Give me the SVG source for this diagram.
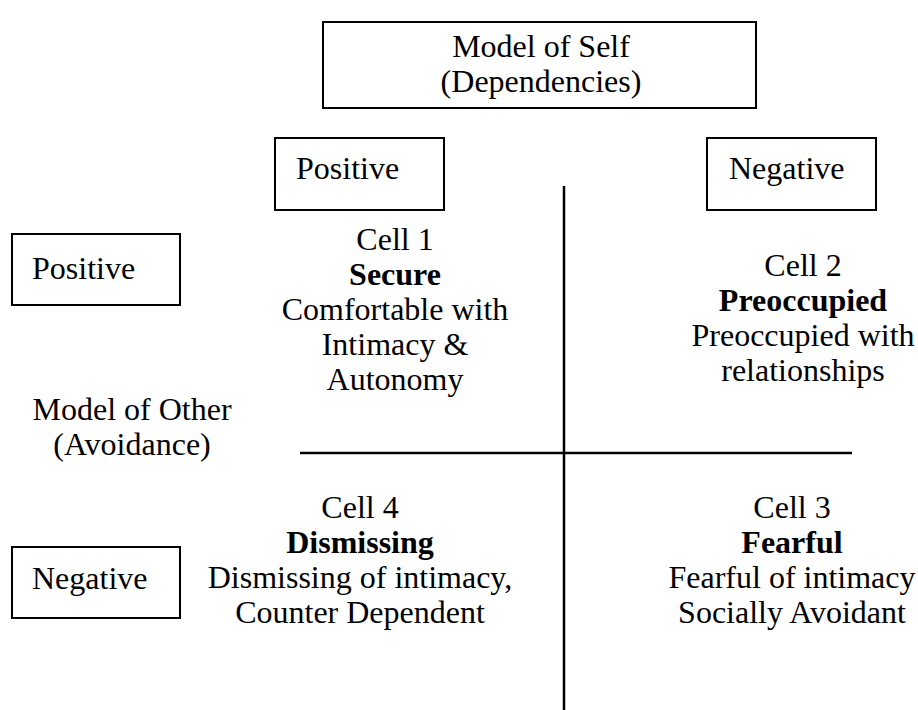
<svg xmlns="http://www.w3.org/2000/svg" width="918" height="710" viewBox="0 0 918 710">
<style>
text{font-family:"Liberation Serif","Times New Roman",serif;font-size:32px;fill:#000}
.c{text-anchor:middle}
.b{font-weight:bold}
.box{fill:#fff;stroke:#000;stroke-width:2}
.ln{stroke:#000;stroke-width:2.5;fill:none}
</style>
<rect width="918" height="710" fill="#fff"/>
<g id="self">
<rect class="box" x="323" y="22" width="433" height="86"/>
<text class="c" x="541" y="57">Model of Self</text>
<text class="c" x="541" y="92">(Dependencies)</text>
</g>
<g id="self-positive">
<rect class="box" x="275" y="138" width="169" height="72"/>
<text x="296" y="179">Positive</text>
</g>
<g id="self-negative">
<rect class="box" x="707" y="138" width="169" height="72"/>
<text x="729" y="179">Negative</text>
</g>
<g id="other-positive">
<rect class="box" x="12" y="234" width="168" height="71"/>
<text x="32" y="279">Positive</text>
</g>
<g id="other-negative">
<rect class="box" x="12" y="547" width="168" height="71"/>
<text x="32" y="589">Negative</text>
</g>
<g id="other">
<text class="c" x="132" y="420">Model of Other</text>
<text class="c" x="132" y="455">(Avoidance)</text>
</g>
<g id="cell1">
<text class="c" x="395" y="250">Cell 1</text>
<text class="c b" x="395" y="285">Secure</text>
<text class="c" x="395" y="320">Comfortable with</text>
<text class="c" x="395" y="355">Intimacy &amp;</text>
<text class="c" x="395" y="390">Autonomy</text>
</g>
<g id="cell2">
<text class="c" x="803" y="276">Cell 2</text>
<text class="c b" x="803" y="311">Preoccupied</text>
<text class="c" x="803" y="346">Preoccupied with</text>
<text class="c" x="803" y="381">relationships</text>
</g>
<g id="cell4">
<text class="c" x="360" y="518">Cell 4</text>
<text class="c b" x="360" y="553">Dismissing</text>
<text class="c" x="360" y="588">Dismissing of intimacy,</text>
<text class="c" x="360" y="623">Counter Dependent</text>
</g>
<g id="cell3">
<text class="c" x="792" y="518">Cell 3</text>
<text class="c b" x="792" y="553">Fearful</text>
<text class="c" x="792" y="588">Fearful of intimacy</text>
<text class="c" x="792" y="623">Socially Avoidant</text>
</g>
<g id="connectors">
<line class="ln" x1="300" y1="453" x2="852" y2="453"/>
<line class="ln" x1="564" y1="186" x2="564" y2="710"/>
</g>
</svg>
